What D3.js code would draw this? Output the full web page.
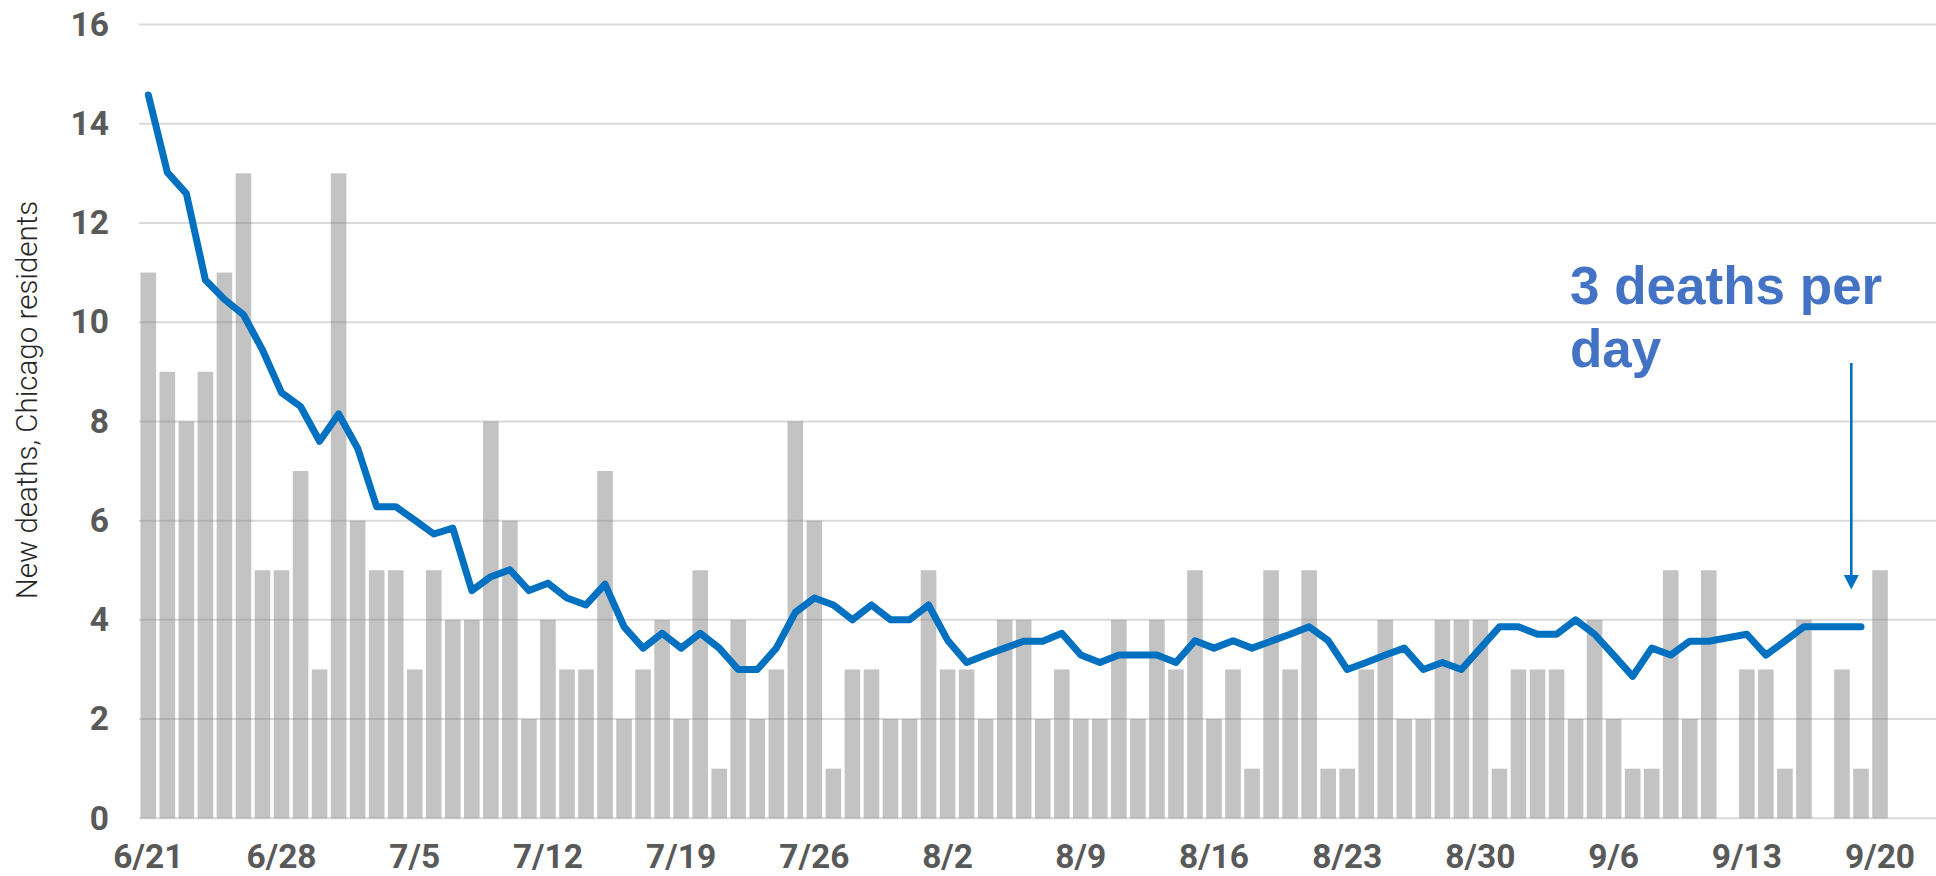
<!DOCTYPE html>
<html>
<head>
<meta charset="utf-8">
<script src="https://cdn.jsdelivr.net/npm/d3@7"></script>
<style>
  body { margin: 0; background: #fff; }
  svg { display: block; }
</style>
</head>
<body>
<svg id="chart" width="1936" height="876"></svg>
<script>
// days shown on the category axis
const days = [
  "6/21","6/22","6/23","6/24","6/25","6/26","6/27","6/28","6/29","6/30",
  "7/1","7/2","7/3","7/4","7/5","7/6","7/7","7/8","7/9","7/10",
  "7/11","7/12","7/13","7/14","7/15","7/16","7/17","7/18","7/19","7/20",
  "7/21","7/22","7/23","7/24","7/25","7/26","7/27","7/28","7/29","7/30",
  "7/31","8/1","8/2","8/3","8/4","8/5","8/6","8/7","8/8","8/9",
  "8/10","8/11","8/12","8/13","8/14","8/15","8/16","8/17","8/18","8/19",
  "8/20","8/21","8/22","8/23","8/24","8/25","8/26","8/27","8/28","8/29",
  "8/30","8/31","9/1","9/2","9/3","9/4","9/5","9/6","9/7","9/8",
  "9/9","9/10","9/11","9/12","9/13","9/14","9/15","9/16","9/17","9/18",
  "9/19","9/20"
];

// daily new deaths (grey bars)
const deaths = [
  11, 9, 8, 9, 11, 13, 5, 5, 7, 3,
  13, 6, 5, 5, 3, 5, 4, 4, 8, 6,
  2, 4, 3, 3, 7, 2, 3, 4, 2, 5,
  1, 4, 2, 3, 8, 6, 1, 3, 3, 2,
  2, 5, 3, 3, 2, 4, 4, 2, 3, 2,
  2, 4, 2, 4, 3, 5, 2, 3, 1, 5,
  3, 5, 1, 1, 3, 4, 2, 2, 4, 4,
  4, 1, 3, 3, 3, 2, 4, 2, 1, 1,
  5, 2, 5, 0, 3, 3, 1, 4, 0, 3,
  1, 5
];

// average line (blue), stops one day before the last bar
const avg = [
  14.58, 13.02, 12.59, 10.85, 10.46, 10.15, 9.44, 8.58, 8.30, 7.60,
  8.15, 7.46, 6.28, 6.28, 6.01, 5.73, 5.85, 4.59, 4.87, 5.01,
  4.59, 4.74, 4.44, 4.30, 4.72, 3.86, 3.43, 3.73, 3.43, 3.73,
  3.43, 3.00, 3.00, 3.43, 4.15, 4.44, 4.30, 4.00, 4.30, 4.00,
  4.00, 4.30, 3.59, 3.14, 3.29, 3.43, 3.57, 3.57, 3.73, 3.29,
  3.14, 3.29, 3.29, 3.29, 3.14, 3.58, 3.43, 3.58, 3.43, 3.57,
  3.71, 3.86, 3.58, 3.00, 3.14, 3.29, 3.43, 3.00, 3.14, 3.00,
  3.43, 3.86, 3.86, 3.71, 3.71, 4.00, 3.71, 3.29, 2.86, 3.43,
  3.29, 3.57, 3.57, 3.64, 3.71, 3.29, 3.57, 3.86, 3.86, 3.86,
  3.86, null
];

const xTicks = ["6/21","6/28","7/5","7/12","7/19","7/26","8/2","8/9","8/16","8/23","8/30","9/6","9/13","9/20"];
const yTicks = [0, 2, 4, 6, 8, 10, 12, 14, 16];

const yTitle = "New deaths, Chicago residents";
const noteLines = ["3 deaths per", "day"];

const svg = d3.select("#chart");
const plotLeft = 139, plotRight = 1936;
const yTop = 24.5, yBottom = 818.3;

const x = d3.scaleBand()
  .domain(days)
  .range([138.8, 138.8 + days.length * 19.03])
  .paddingInner(0.18)
  .paddingOuter(0.09);

const y = d3.scaleLinear().domain([0, 16]).range([yBottom, yTop]);

svg.append("rect").attr("width", 1936).attr("height", 876).attr("fill", "#fff");

// gridlines
svg.append("g")
  .selectAll("line")
  .data(yTicks)
  .enter()
  .append("line")
  .attr("x1", plotLeft)
  .attr("x2", plotRight)
  .attr("y1", d => y(d))
  .attr("y2", d => y(d))
  .attr("stroke", "#d9d9d9")
  .attr("stroke-width", 2);

// bars (semi transparent, gridlines show through like in excel)
svg.append("g")
  .selectAll("rect")
  .data(days)
  .enter()
  .append("rect")
  .attr("x", d => x(d))
  .attr("width", x.bandwidth())
  .attr("y", (d, i) => y(deaths[i]))
  .attr("height", (d, i) => y(0) - y(deaths[i]))
  .attr("fill", "#808080")
  .attr("fill-opacity", 0.47);

// y axis labels
const yAxis = svg.append("g")
  .attr("transform", `translate(109,0)`)
  .call(d3.axisLeft(y).tickValues(yTicks).tickSize(0).tickPadding(0));
yAxis.select(".domain").remove();
yAxis.selectAll("text")
  .attr("font-family", "Roboto, 'DejaVu Sans', sans-serif")
  .attr("font-weight", "bold")
  .attr("font-size", 33.5)
  .attr("fill", "#595959")
  .attr("dy", "0.32em");

// x axis labels
const xAxis = svg.append("g")
  .attr("transform", `translate(0,${yBottom})`)
  .call(d3.axisBottom(x).tickValues(xTicks).tickSize(0).tickPadding(0));
xAxis.select(".domain").remove();
xAxis.selectAll("text")
  .attr("font-family", "Roboto, 'DejaVu Sans', sans-serif")
  .attr("font-weight", "bold")
  .attr("font-size", 33.5)
  .attr("fill", "#595959")
  .attr("dy", 0)
  .attr("y", 50);

// axis title
svg.append("text")
  .attr("transform", "translate(37,400) rotate(-90)")
  .attr("text-anchor", "middle")
  .attr("font-family", "Roboto, 'Open Sans', sans-serif")
  .attr("font-weight", 300)
  .attr("font-size", 29.5)
  .attr("fill", "#262626")
  .text(yTitle);

// average line
const line = d3.line()
  .defined(d => d != null)
  .x((d, i) => x(days[i]) + x.bandwidth() / 2)
  .y(d => y(d));

svg.append("path")
  .datum(avg)
  .attr("d", line)
  .attr("fill", "none")
  .attr("stroke", "#0070c0")
  .attr("stroke-width", 7)
  .attr("stroke-linejoin", "round")
  .attr("stroke-linecap", "round");

// annotation
svg.append("text")
  .attr("x", 1570)
  .attr("y", 304)
  .attr("font-family", "'Liberation Sans', Arial, sans-serif")
  .attr("font-weight", "bold")
  .attr("font-size", 53)
  .attr("fill", "#4472c4")
  .selectAll("tspan")
  .data(noteLines)
  .enter()
  .append("tspan")
  .attr("x", 1570)
  .attr("dy", (d, i) => i == 0 ? 0 : 62.7)
  .text(d => d);

const arrowX = 1851.3;
svg.append("line")
  .attr("x1", arrowX).attr("x2", arrowX)
  .attr("y1", 363).attr("y2", 578)
  .attr("stroke", "#0070c0")
  .attr("stroke-width", 2.6);
svg.append("path")
  .attr("d", d3.line()([[arrowX - 7.5, 575], [arrowX + 7.5, 575], [arrowX, 589.5]]))
  .attr("fill", "#0070c0");
</script>
</body>
</html>
